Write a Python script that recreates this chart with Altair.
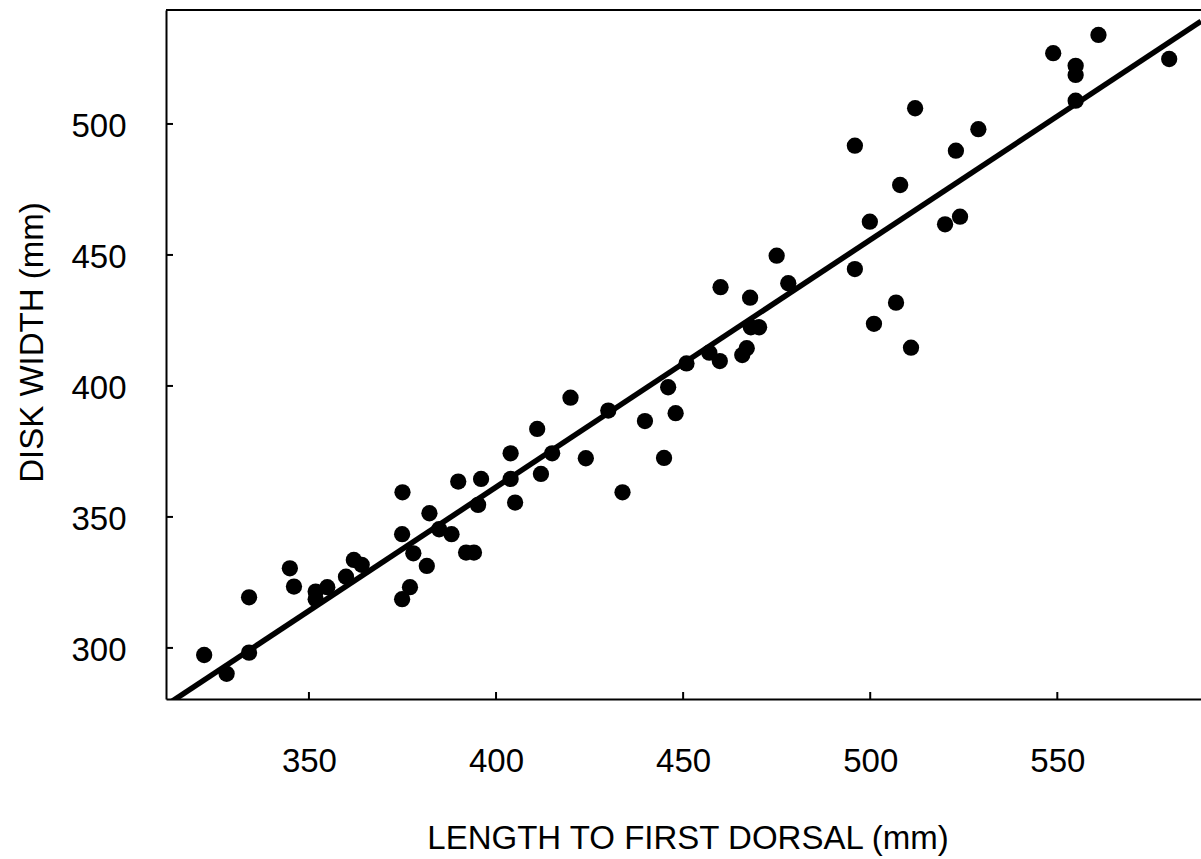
import altair as alt
import pandas as pd

# Length to first dorsal (mm)
length_mm = [322, 328, 334, 334, 344.9, 346, 351.8, 351.8, 354.9, 359.9,
             362, 364.1, 374.9, 374.9, 377, 377.9, 381.5, 382.2, 384.8, 388.1,
             392, 394.1, 395.2, 375, 389.9, 396, 403.9, 403.9, 405.1, 411,
             412, 415, 419.9, 424, 430, 433.8, 439.8, 448, 446, 450.9,
             457, 459.8, 460, 465.8, 467, 468.1, 470.3, 467.9, 475, 478.1,
             444.9, 495.9, 512, 508, 499.9, 495.9, 522.9, 528.9, 520, 524,
             506.9, 501, 510.9, 548.9, 561, 554.9, 554.9, 554.9, 579.9]
# Disk width (mm)
disk_mm = [297.3, 290.1, 319.3, 298.2, 330.4, 323.4, 321.5, 318.6, 323.2, 327.2,
           333.6, 331.7, 343.4, 318.6, 323.2, 336.1, 331.3, 351.4, 345.3, 343.4,
           336.4, 336.4, 354.6, 359.4, 363.5, 364.5, 374.3, 364.5, 355.5, 383.6,
           366.4, 374.3, 395.5, 372.4, 390.6, 359.4, 386.6, 389.6, 399.5, 408.6,
           412.7, 409.5, 437.7, 411.8, 414.4, 422.4, 422.4, 433.7, 449.7, 439.2,
           372.5, 491.7, 506.0, 476.7, 462.7, 444.6, 489.8, 498.0, 461.7, 464.6,
           431.8, 423.7, 414.6, 527.0, 534.0, 522.2, 518.7, 508.9, 524.8]

x_ticks = [350, 400, 450, 500, 550]
y_ticks = [300, 350, 400, 450, 500]

X_DOMAIN = [311.8, 588.4]
Y_DOMAIN = [280.5, 543.5]
W, H = 1035, 689
FONT = "Liberation Sans"
FS = 33

df = pd.DataFrame({"len": length_mm, "disk": disk_mm})
xt = pd.DataFrame({"v": x_ticks})
yt = pd.DataFrame({"v": y_ticks})

xscale = alt.Scale(domain=X_DOMAIN, nice=False, zero=False)
yscale = alt.Scale(domain=Y_DOMAIN, nice=False, zero=False)

xaxis = alt.Axis(values=x_ticks, title="LENGTH TO FIRST DORSAL (mm)", grid=False,
                 ticks=False, tickSize=0, domainColor="black", domainWidth=2,
                 labelFont=FONT, labelFontSize=FS, labelColor="black",
                 labelPadding=46, labelBaseline="top",
                 titleFont=FONT, titleFontSize=FS, titleFontWeight="normal",
                 titleColor="black", titleBaseline="alphabetic", titleAlign="center",
                 titleX=521.5, titleY=149)
yaxis = alt.Axis(values=y_ticks, title="DISK WIDTH (mm)", grid=False,
                 ticks=False, tickSize=0, domainColor="black", domainWidth=2,
                 labelFont=FONT, labelFontSize=FS, labelColor="black",
                 labelPadding=40, labelBaseline="middle", labelOffset=3,
                 titleFont=FONT, titleFontSize=FS, titleFontWeight="normal",
                 titleColor="black", titleBaseline="alphabetic", titleAlign="center",
                 titleAngle=270, titleX=-124, titleY=332)

points = alt.Chart(df).mark_circle(color="black", opacity=1, size=265).encode(
    x=alt.X("len:Q", scale=xscale, axis=xaxis),
    y=alt.Y("disk:Q", scale=yscale, axis=yaxis),
)

fit = alt.Chart(df).transform_regression(
    "len", "disk", extent=X_DOMAIN
).mark_line(color="black", strokeWidth=5.5, clip=True).encode(
    x=alt.X("len:Q", scale=xscale),
    y=alt.Y("disk:Q", scale=yscale),
)

ytick_marks = alt.Chart(yt).mark_rule(color="black", strokeWidth=2).encode(
    y=alt.Y("v:Q", scale=yscale),
    x=alt.value(0), x2=alt.value(7),
)
xtick_marks = alt.Chart(xt).mark_rule(color="black", strokeWidth=2).encode(
    x=alt.X("v:Q", scale=xscale),
    y=alt.value(H - 7), y2=alt.value(H),
)
top_line = alt.Chart(xt).mark_rule(color="black", strokeWidth=2).encode(
    x=alt.value(0), x2=alt.value(W), y=alt.value(0),
)

chart = alt.layer(fit, points, ytick_marks, xtick_marks, top_line).properties(
    width=W, height=H,
    autosize=alt.AutoSizeParams(type="none"),
    padding={"left": 166, "top": 10, "right": 0, "bottom": 160},
    background="white",
).configure_view(stroke=None)

chart.save("out.html", embed_options={"renderer": "svg", "actions": False})
